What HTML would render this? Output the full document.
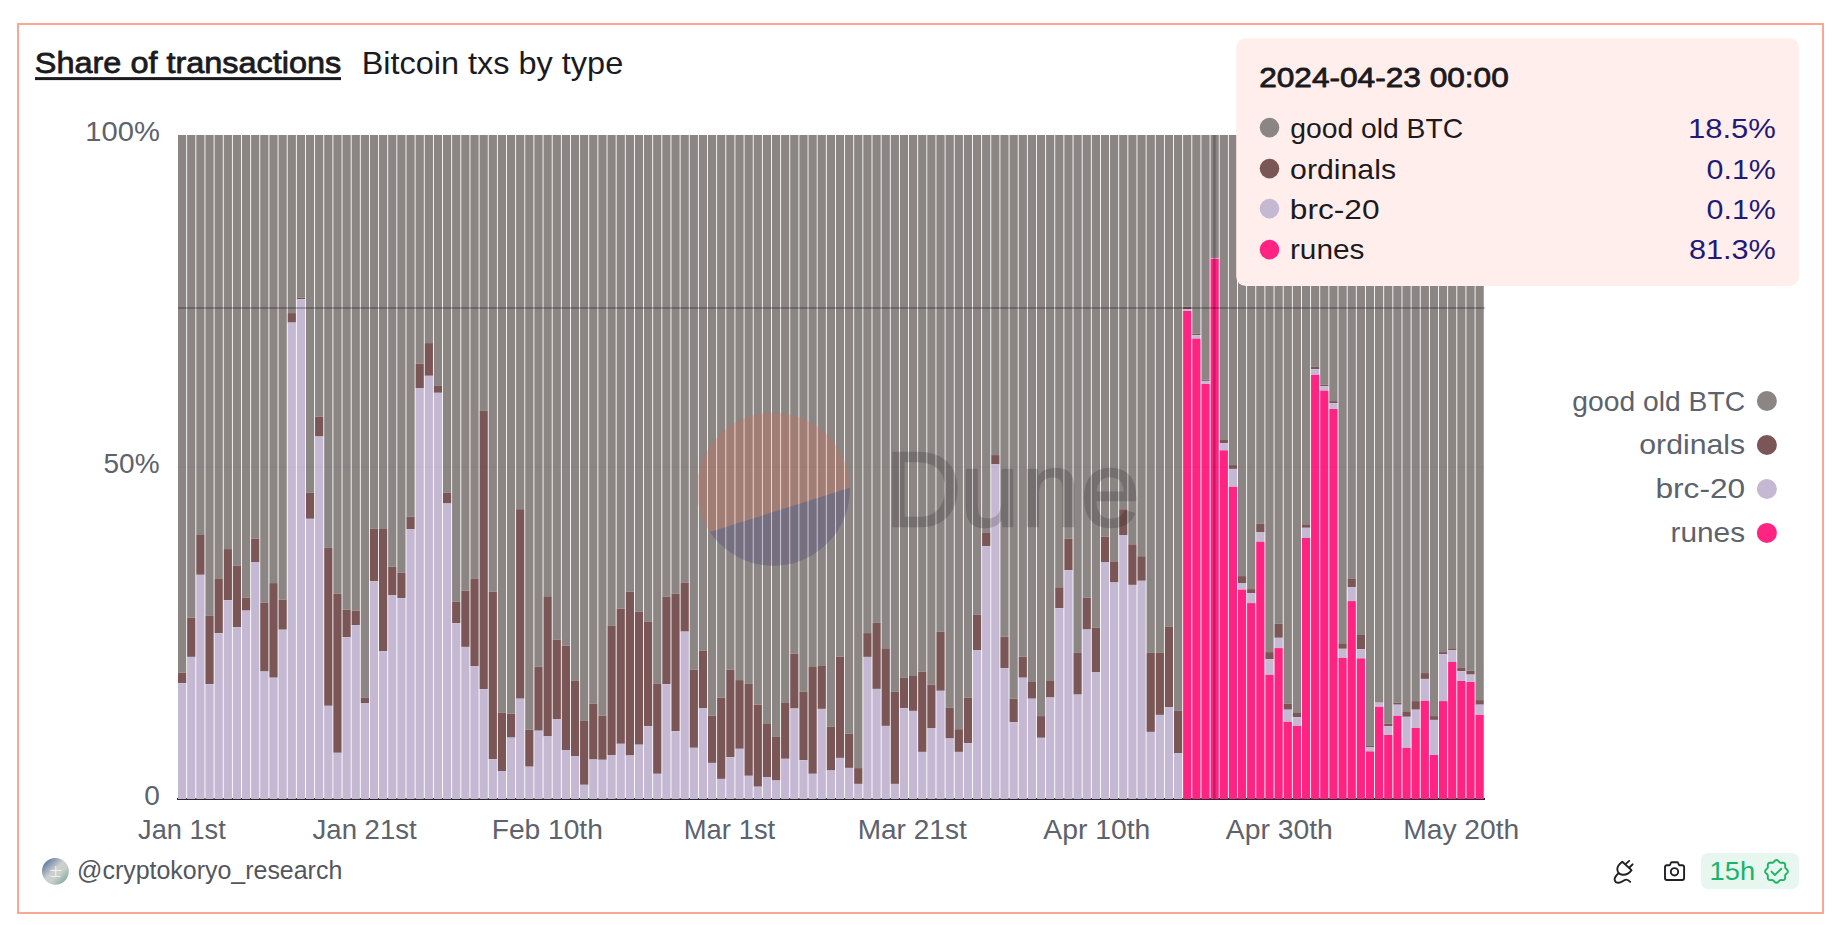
<!DOCTYPE html>
<html lang="en"><head><meta charset="utf-8"><title>Share of transactions - Bitcoin txs by type</title>
<style>html,body{margin:0;padding:0;background:#fff;}body{width:1840px;height:925px;overflow:hidden;font-family:"Liberation Sans",sans-serif;}svg{display:block;}text{font-family:"Liberation Sans",sans-serif;}</style></head><body>
<svg width="1840" height="925" viewBox="0 0 1840 925">
<rect x="0" y="0" width="1840" height="925" fill="#ffffff"/>
<rect x="18" y="24" width="1805" height="889" fill="#ffffff" stroke="#f9a894" stroke-width="2"/>
<text x="34.85" y="73.4" font-size="30.4" stroke="#1b1a1e" stroke-width="0.8" stroke-linejoin="round" fill="#1b1a1e" textLength="306.42" lengthAdjust="spacingAndGlyphs">Share of transactions</text>
<rect x="35" y="77.1" width="306" height="3" fill="#1b1a1e"/>
<text x="361.69" y="73.8" font-size="31.7" fill="#1b1a1e" textLength="261.49" lengthAdjust="spacingAndGlyphs">Bitcoin txs by type</text>
<text x="85.26" y="140.8" font-size="27.5" fill="#5d626c" textLength="74.61" lengthAdjust="spacingAndGlyphs">100%</text>
<text x="103.54" y="472.9" font-size="27.5" fill="#5d626c" textLength="56.07" lengthAdjust="spacingAndGlyphs">50%</text>
<text x="144.21" y="804.9" font-size="27.5" fill="#5d626c" textLength="15.59" lengthAdjust="spacingAndGlyphs">0</text>
<rect x="177" y="798" width="1308" height="2" fill="#2d2a33"/>
<g fill="#8b8584"><rect x="178" y="135" width="8.24" height="537.7"/><rect x="187.14" y="135" width="8.24" height="482.6"/><rect x="196.28" y="135" width="8.24" height="400"/><rect x="205.41" y="135" width="8.24" height="480.9"/><rect x="214.55" y="135" width="8.24" height="443.4"/><rect x="223.69" y="135" width="8.24" height="414.1"/><rect x="232.82" y="135" width="8.24" height="430.8"/><rect x="241.96" y="135" width="8.24" height="462.5"/><rect x="251.1" y="135" width="8.24" height="403.6"/><rect x="260.24" y="135" width="8.24" height="467.8"/><rect x="269.38" y="135" width="8.24" height="448.1"/><rect x="278.51" y="135" width="8.24" height="464.7"/><rect x="287.65" y="135" width="8.24" height="178.1"/><rect x="296.79" y="135" width="8.24" height="162.6"/><rect x="305.92" y="135" width="8.24" height="357.8"/><rect x="315.06" y="135" width="8.24" height="281.6"/><rect x="324.2" y="135" width="8.24" height="412.9"/><rect x="333.34" y="135" width="8.24" height="458.7"/><rect x="342.48" y="135" width="8.24" height="474.7"/><rect x="351.61" y="135" width="8.24" height="475.6"/><rect x="360.75" y="135" width="8.24" height="562.5"/><rect x="369.89" y="135" width="8.24" height="393.8"/><rect x="379.02" y="135" width="8.24" height="394"/><rect x="388.16" y="135" width="8.24" height="431.7"/><rect x="397.3" y="135" width="8.24" height="437.7"/><rect x="406.44" y="135" width="8.24" height="381.6"/><rect x="415.57" y="135" width="8.24" height="228.7"/><rect x="424.71" y="135" width="8.24" height="208.1"/><rect x="433.85" y="135" width="8.24" height="250.9"/><rect x="442.99" y="135" width="8.24" height="357.8"/><rect x="452.12" y="135" width="8.24" height="466.6"/><rect x="461.26" y="135" width="8.24" height="455.6"/><rect x="470.4" y="135" width="8.24" height="443.4"/><rect x="479.54" y="135" width="8.24" height="275.9"/><rect x="488.67" y="135" width="8.24" height="456.6"/><rect x="497.81" y="135" width="8.24" height="577.8"/><rect x="506.95" y="135" width="8.24" height="578.7"/><rect x="516.09" y="135" width="8.24" height="374.2"/><rect x="525.22" y="135" width="8.24" height="594.7"/><rect x="534.36" y="135" width="8.24" height="531.7"/><rect x="543.5" y="135" width="8.24" height="461.3"/><rect x="552.64" y="135" width="8.24" height="504.5"/><rect x="561.77" y="135" width="8.24" height="510.7"/><rect x="570.91" y="135" width="8.24" height="545.8"/><rect x="580.05" y="135" width="8.24" height="585.9"/><rect x="589.19" y="135" width="8.24" height="568.5"/><rect x="598.33" y="135" width="8.24" height="580.6"/><rect x="607.46" y="135" width="8.24" height="490.9"/><rect x="616.6" y="135" width="8.24" height="473.7"/><rect x="625.74" y="135" width="8.24" height="456.6"/><rect x="634.88" y="135" width="8.24" height="476.6"/><rect x="644.01" y="135" width="8.24" height="486.9"/><rect x="653.15" y="135" width="8.24" height="548.9"/><rect x="662.29" y="135" width="8.24" height="461.6"/><rect x="671.42" y="135" width="8.24" height="458.7"/><rect x="680.56" y="135" width="8.24" height="447.5"/><rect x="689.7" y="135" width="8.24" height="534.8"/><rect x="698.84" y="135" width="8.24" height="515.7"/><rect x="707.97" y="135" width="8.24" height="580.6"/><rect x="717.11" y="135" width="8.24" height="562.7"/><rect x="726.25" y="135" width="8.24" height="534.8"/><rect x="735.39" y="135" width="8.24" height="545.1"/><rect x="744.52" y="135" width="8.24" height="548.9"/><rect x="753.66" y="135" width="8.24" height="569.7"/><rect x="762.8" y="135" width="8.24" height="589"/><rect x="771.94" y="135" width="8.24" height="601.9"/><rect x="781.07" y="135" width="8.24" height="568"/><rect x="790.21" y="135" width="8.24" height="518.6"/><rect x="799.35" y="135" width="8.24" height="556.5"/><rect x="808.49" y="135" width="8.24" height="532"/><rect x="817.62" y="135" width="8.24" height="531"/><rect x="826.76" y="135" width="8.24" height="591.8"/><rect x="835.9" y="135" width="8.24" height="521.7"/><rect x="845.04" y="135" width="8.24" height="598.8"/><rect x="854.17" y="135" width="8.24" height="633.1"/><rect x="863.31" y="135" width="8.24" height="498.1"/><rect x="872.45" y="135" width="8.24" height="487.8"/><rect x="881.59" y="135" width="8.24" height="513.3"/><rect x="890.72" y="135" width="8.24" height="556.8"/><rect x="899.86" y="135" width="8.24" height="542.9"/><rect x="909" y="135" width="8.24" height="541"/><rect x="918.14" y="135" width="8.24" height="536.7"/><rect x="927.27" y="135" width="8.24" height="549.6"/><rect x="936.41" y="135" width="8.24" height="496.6"/><rect x="945.55" y="135" width="8.24" height="572.8"/><rect x="954.69" y="135" width="8.24" height="594.2"/><rect x="963.82" y="135" width="8.24" height="562.7"/><rect x="972.96" y="135" width="8.24" height="479.5"/><rect x="982.1" y="135" width="8.24" height="397.4"/><rect x="991.24" y="135" width="8.24" height="320.1"/><rect x="1000.37" y="135" width="8.24" height="501.6"/><rect x="1009.51" y="135" width="8.24" height="563.7"/><rect x="1018.65" y="135" width="8.24" height="521.7"/><rect x="1027.79" y="135" width="8.24" height="547"/><rect x="1036.92" y="135" width="8.24" height="581.1"/><rect x="1046.06" y="135" width="8.24" height="546"/><rect x="1055.2" y="135" width="8.24" height="452.3"/><rect x="1064.34" y="135" width="8.24" height="403.6"/><rect x="1073.47" y="135" width="8.24" height="517.9"/><rect x="1082.61" y="135" width="8.24" height="462.5"/><rect x="1091.75" y="135" width="8.24" height="492.8"/><rect x="1100.89" y="135" width="8.24" height="401.7"/><rect x="1110.03" y="135" width="8.24" height="427"/><rect x="1119.16" y="135" width="8.24" height="374.2"/><rect x="1128.3" y="135" width="8.24" height="409.3"/><rect x="1137.44" y="135" width="8.24" height="421.2"/><rect x="1146.57" y="135" width="8.24" height="517.9"/><rect x="1155.71" y="135" width="8.24" height="517.9"/><rect x="1164.85" y="135" width="8.24" height="491.9"/><rect x="1173.99" y="135" width="8.24" height="575.9"/><rect x="1183.12" y="135" width="8.24" height="171.6"/><rect x="1192.26" y="135" width="8.24" height="198.6"/><rect x="1201.4" y="135" width="8.24" height="244.7"/><rect x="1210.54" y="135" width="8.24" height="122.4"/><rect x="1219.67" y="135" width="8.24" height="305"/><rect x="1228.81" y="135" width="8.24" height="330.1"/><rect x="1237.95" y="135" width="8.24" height="441.1"/><rect x="1247.09" y="135" width="8.24" height="454.1"/><rect x="1256.22" y="135" width="8.24" height="388.8"/><rect x="1265.36" y="135" width="8.24" height="517.1"/><rect x="1274.5" y="135" width="8.24" height="488.8"/><rect x="1283.64" y="135" width="8.24" height="568.5"/><rect x="1292.77" y="135" width="8.24" height="578"/><rect x="1301.91" y="135" width="8.24" height="389.3"/><rect x="1311.05" y="135" width="8.24" height="231.8"/><rect x="1320.19" y="135" width="8.24" height="249.7"/><rect x="1329.32" y="135" width="8.24" height="266.1"/><rect x="1338.46" y="135" width="8.24" height="508.3"/><rect x="1347.6" y="135" width="8.24" height="443.4"/><rect x="1356.74" y="135" width="8.24" height="500"/><rect x="1365.88" y="135" width="8.24" height="610.9"/><rect x="1375.01" y="135" width="8.24" height="566.3"/><rect x="1384.15" y="135" width="8.24" height="588.7"/><rect x="1393.29" y="135" width="8.24" height="567.7"/><rect x="1402.42" y="135" width="8.24" height="576.3"/><rect x="1411.56" y="135" width="8.24" height="566.1"/><rect x="1420.7" y="135" width="8.24" height="538.1"/><rect x="1429.84" y="135" width="8.24" height="581.1"/><rect x="1438.97" y="135" width="8.24" height="517.1"/><rect x="1448.11" y="135" width="8.24" height="513.3"/><rect x="1457.25" y="135" width="8.24" height="532.9"/><rect x="1466.39" y="135" width="8.24" height="535.8"/><rect x="1475.52" y="135" width="8.24" height="565.1"/></g>
<g fill="#7a5756"><rect x="178" y="672.7" width="8.24" height="10.5"/><rect x="187.14" y="617.6" width="8.24" height="39.3"/><rect x="196.28" y="535" width="8.24" height="39.8"/><rect x="205.41" y="615.9" width="8.24" height="68.2"/><rect x="214.55" y="578.4" width="8.24" height="54.7"/><rect x="223.69" y="549.1" width="8.24" height="51"/><rect x="232.82" y="565.8" width="8.24" height="61.3"/><rect x="241.96" y="597.5" width="8.24" height="13.1"/><rect x="251.1" y="538.6" width="8.24" height="23.8"/><rect x="260.24" y="602.8" width="8.24" height="68.7"/><rect x="269.38" y="583.1" width="8.24" height="94.6"/><rect x="278.51" y="599.7" width="8.24" height="30"/><rect x="287.65" y="313.1" width="8.24" height="9.5"/><rect x="296.79" y="297.6" width="8.24" height="1.7"/><rect x="305.92" y="492.8" width="8.24" height="26"/><rect x="315.06" y="416.6" width="8.24" height="19.9"/><rect x="324.2" y="547.9" width="8.24" height="157.9"/><rect x="333.34" y="593.7" width="8.24" height="159.1"/><rect x="342.48" y="609.7" width="8.24" height="27.4"/><rect x="351.61" y="610.6" width="8.24" height="14.5"/><rect x="360.75" y="697.5" width="8.24" height="5.5"/><rect x="369.89" y="528.8" width="8.24" height="52.3"/><rect x="379.02" y="529" width="8.24" height="122.1"/><rect x="388.16" y="566.7" width="8.24" height="28.7"/><rect x="397.3" y="572.7" width="8.24" height="25.4"/><rect x="406.44" y="516.6" width="8.24" height="12.7"/><rect x="415.57" y="363.7" width="8.24" height="24.3"/><rect x="424.71" y="343.1" width="8.24" height="32.7"/><rect x="433.85" y="385.9" width="8.24" height="6.9"/><rect x="442.99" y="492.8" width="8.24" height="10.7"/><rect x="452.12" y="601.6" width="8.24" height="21.5"/><rect x="461.26" y="590.6" width="8.24" height="56.3"/><rect x="470.4" y="578.4" width="8.24" height="87.6"/><rect x="479.54" y="410.9" width="8.24" height="278.2"/><rect x="488.67" y="591.6" width="8.24" height="167.5"/><rect x="497.81" y="712.8" width="8.24" height="58.2"/><rect x="506.95" y="713.7" width="8.24" height="23.9"/><rect x="516.09" y="509.2" width="8.24" height="189.5"/><rect x="525.22" y="729.7" width="8.24" height="37"/><rect x="534.36" y="666.7" width="8.24" height="64"/><rect x="543.5" y="596.3" width="8.24" height="140.1"/><rect x="552.64" y="639.5" width="8.24" height="79.5"/><rect x="561.77" y="645.7" width="8.24" height="104.3"/><rect x="570.91" y="680.8" width="8.24" height="75.2"/><rect x="580.05" y="720.9" width="8.24" height="63.9"/><rect x="589.19" y="703.5" width="8.24" height="56"/><rect x="598.33" y="715.6" width="8.24" height="44.2"/><rect x="607.46" y="625.9" width="8.24" height="129.1"/><rect x="616.6" y="608.7" width="8.24" height="135.1"/><rect x="625.74" y="591.6" width="8.24" height="163.9"/><rect x="634.88" y="611.6" width="8.24" height="133.1"/><rect x="644.01" y="621.9" width="8.24" height="104.2"/><rect x="653.15" y="683.9" width="8.24" height="89.9"/><rect x="662.29" y="596.6" width="8.24" height="87.5"/><rect x="671.42" y="593.7" width="8.24" height="137.4"/><rect x="680.56" y="582.5" width="8.24" height="49.1"/><rect x="689.7" y="669.8" width="8.24" height="78"/><rect x="698.84" y="650.7" width="8.24" height="57.3"/><rect x="707.97" y="715.6" width="8.24" height="47.3"/><rect x="717.11" y="697.7" width="8.24" height="81.2"/><rect x="726.25" y="669.8" width="8.24" height="87.3"/><rect x="735.39" y="680.1" width="8.24" height="68.7"/><rect x="744.52" y="683.9" width="8.24" height="91.9"/><rect x="753.66" y="704.7" width="8.24" height="82"/><rect x="762.8" y="724" width="8.24" height="53"/><rect x="771.94" y="736.9" width="8.24" height="43.6"/><rect x="781.07" y="703" width="8.24" height="55.8"/><rect x="790.21" y="653.6" width="8.24" height="54.9"/><rect x="799.35" y="691.5" width="8.24" height="68.7"/><rect x="808.49" y="667" width="8.24" height="106.8"/><rect x="817.62" y="666" width="8.24" height="42.9"/><rect x="826.76" y="726.8" width="8.24" height="43.7"/><rect x="835.9" y="656.7" width="8.24" height="101.2"/><rect x="845.04" y="733.8" width="8.24" height="34.1"/><rect x="854.17" y="768.1" width="8.24" height="15.8"/><rect x="863.31" y="633.1" width="8.24" height="23.8"/><rect x="872.45" y="622.8" width="8.24" height="66.1"/><rect x="881.59" y="648.3" width="8.24" height="77.6"/><rect x="890.72" y="691.8" width="8.24" height="92.1"/><rect x="899.86" y="677.9" width="8.24" height="30.3"/><rect x="909" y="676" width="8.24" height="34.9"/><rect x="918.14" y="671.7" width="8.24" height="80.2"/><rect x="927.27" y="684.6" width="8.24" height="43.4"/><rect x="936.41" y="631.6" width="8.24" height="59.2"/><rect x="945.55" y="707.8" width="8.24" height="30.7"/><rect x="954.69" y="729.2" width="8.24" height="22.7"/><rect x="963.82" y="697.7" width="8.24" height="45.4"/><rect x="972.96" y="614.5" width="8.24" height="35.5"/><rect x="982.1" y="532.4" width="8.24" height="13.8"/><rect x="991.24" y="455.1" width="8.24" height="9.3"/><rect x="1000.37" y="636.6" width="8.24" height="31.5"/><rect x="1009.51" y="698.7" width="8.24" height="23.4"/><rect x="1018.65" y="656.7" width="8.24" height="21"/><rect x="1027.79" y="682" width="8.24" height="16.7"/><rect x="1036.92" y="716.1" width="8.24" height="21.7"/><rect x="1046.06" y="681" width="8.24" height="16.5"/><rect x="1055.2" y="587.3" width="8.24" height="21"/><rect x="1064.34" y="538.6" width="8.24" height="31.5"/><rect x="1073.47" y="652.9" width="8.24" height="41.7"/><rect x="1082.61" y="597.5" width="8.24" height="32"/><rect x="1091.75" y="627.8" width="8.24" height="44.2"/><rect x="1100.89" y="536.7" width="8.24" height="25.3"/><rect x="1110.03" y="562" width="8.24" height="20.5"/><rect x="1119.16" y="509.2" width="8.24" height="25.8"/><rect x="1128.3" y="544.3" width="8.24" height="40.6"/><rect x="1137.44" y="556.2" width="8.24" height="24.6"/><rect x="1146.57" y="652.9" width="8.24" height="79"/><rect x="1155.71" y="652.9" width="8.24" height="62"/><rect x="1164.85" y="626.9" width="8.24" height="80.4"/><rect x="1173.99" y="710.9" width="8.24" height="42.4"/><rect x="1183.12" y="306.6" width="8.24" height="2.8"/><rect x="1192.26" y="333.6" width="8.24" height="1.5"/><rect x="1201.4" y="379.7" width="8.24" height="1.2"/><rect x="1210.54" y="257.4" width="8.24" height="0.6"/><rect x="1219.67" y="440" width="8.24" height="3.1"/><rect x="1228.81" y="465.1" width="8.24" height="3.8"/><rect x="1237.95" y="576.1" width="8.24" height="6.9"/><rect x="1247.09" y="589.1" width="8.24" height="4"/><rect x="1256.22" y="523.8" width="8.24" height="8.6"/><rect x="1265.36" y="652.1" width="8.24" height="7.2"/><rect x="1274.5" y="623.8" width="8.24" height="14"/><rect x="1283.64" y="703.5" width="8.24" height="6.2"/><rect x="1292.77" y="713" width="8.24" height="4.1"/><rect x="1301.91" y="524.3" width="8.24" height="3.5"/><rect x="1311.05" y="366.8" width="8.24" height="2.3"/><rect x="1320.19" y="384.7" width="8.24" height="1.6"/><rect x="1329.32" y="401.1" width="8.24" height="2"/><rect x="1338.46" y="643.3" width="8.24" height="5.5"/><rect x="1347.6" y="578.4" width="8.24" height="8.9"/><rect x="1356.74" y="635" width="8.24" height="14.3"/><rect x="1365.88" y="745.9" width="8.24" height="1.2"/><rect x="1375.01" y="701.3" width="8.24" height="1.2"/><rect x="1384.15" y="723.7" width="8.24" height="2.4"/><rect x="1393.29" y="702.7" width="8.24" height="2"/><rect x="1402.42" y="711.3" width="8.24" height="5.5"/><rect x="1411.56" y="701.1" width="8.24" height="8.6"/><rect x="1420.7" y="673.1" width="8.24" height="5.8"/><rect x="1429.84" y="716.1" width="8.24" height="3.8"/><rect x="1438.97" y="652.1" width="8.24" height="2"/><rect x="1448.11" y="648.3" width="8.24" height="2"/><rect x="1457.25" y="667.9" width="8.24" height="3.3"/><rect x="1466.39" y="670.8" width="8.24" height="3.8"/><rect x="1475.52" y="700.1" width="8.24" height="4.6"/></g>
<g fill="#c5b8d2"><rect x="178" y="683.2" width="8.24" height="115.8"/><rect x="187.14" y="656.9" width="8.24" height="142.1"/><rect x="196.28" y="574.8" width="8.24" height="224.2"/><rect x="205.41" y="684.1" width="8.24" height="114.9"/><rect x="214.55" y="633.1" width="8.24" height="165.9"/><rect x="223.69" y="600.1" width="8.24" height="198.9"/><rect x="232.82" y="627.1" width="8.24" height="171.9"/><rect x="241.96" y="610.6" width="8.24" height="188.4"/><rect x="251.1" y="562.4" width="8.24" height="236.6"/><rect x="260.24" y="671.5" width="8.24" height="127.5"/><rect x="269.38" y="677.7" width="8.24" height="121.3"/><rect x="278.51" y="629.7" width="8.24" height="169.3"/><rect x="287.65" y="322.6" width="8.24" height="476.4"/><rect x="296.79" y="299.3" width="8.24" height="499.7"/><rect x="305.92" y="518.8" width="8.24" height="280.2"/><rect x="315.06" y="436.5" width="8.24" height="362.5"/><rect x="324.2" y="705.8" width="8.24" height="93.2"/><rect x="333.34" y="752.8" width="8.24" height="46.2"/><rect x="342.48" y="637.1" width="8.24" height="161.9"/><rect x="351.61" y="625.1" width="8.24" height="173.9"/><rect x="360.75" y="703" width="8.24" height="96"/><rect x="369.89" y="581.1" width="8.24" height="217.9"/><rect x="379.02" y="651.1" width="8.24" height="147.9"/><rect x="388.16" y="595.4" width="8.24" height="203.6"/><rect x="397.3" y="598.1" width="8.24" height="200.9"/><rect x="406.44" y="529.3" width="8.24" height="269.7"/><rect x="415.57" y="388" width="8.24" height="411"/><rect x="424.71" y="375.8" width="8.24" height="423.2"/><rect x="433.85" y="392.8" width="8.24" height="406.2"/><rect x="442.99" y="503.5" width="8.24" height="295.5"/><rect x="452.12" y="623.1" width="8.24" height="175.9"/><rect x="461.26" y="646.9" width="8.24" height="152.1"/><rect x="470.4" y="666" width="8.24" height="133"/><rect x="479.54" y="689.1" width="8.24" height="109.9"/><rect x="488.67" y="759.1" width="8.24" height="39.9"/><rect x="497.81" y="771" width="8.24" height="28"/><rect x="506.95" y="737.6" width="8.24" height="61.4"/><rect x="516.09" y="698.7" width="8.24" height="100.3"/><rect x="525.22" y="766.7" width="8.24" height="32.3"/><rect x="534.36" y="730.7" width="8.24" height="68.3"/><rect x="543.5" y="736.4" width="8.24" height="62.6"/><rect x="552.64" y="719" width="8.24" height="80"/><rect x="561.77" y="750" width="8.24" height="49"/><rect x="570.91" y="756" width="8.24" height="43"/><rect x="580.05" y="784.8" width="8.24" height="14.2"/><rect x="589.19" y="759.5" width="8.24" height="39.5"/><rect x="598.33" y="759.8" width="8.24" height="39.2"/><rect x="607.46" y="755" width="8.24" height="44"/><rect x="616.6" y="743.8" width="8.24" height="55.2"/><rect x="625.74" y="755.5" width="8.24" height="43.5"/><rect x="634.88" y="744.7" width="8.24" height="54.3"/><rect x="644.01" y="726.1" width="8.24" height="72.9"/><rect x="653.15" y="773.8" width="8.24" height="25.2"/><rect x="662.29" y="684.1" width="8.24" height="114.9"/><rect x="671.42" y="731.1" width="8.24" height="67.9"/><rect x="680.56" y="631.6" width="8.24" height="167.4"/><rect x="689.7" y="747.8" width="8.24" height="51.2"/><rect x="698.84" y="708" width="8.24" height="91"/><rect x="707.97" y="762.9" width="8.24" height="36.1"/><rect x="717.11" y="778.9" width="8.24" height="20.1"/><rect x="726.25" y="757.1" width="8.24" height="41.9"/><rect x="735.39" y="748.8" width="8.24" height="50.2"/><rect x="744.52" y="775.8" width="8.24" height="23.2"/><rect x="753.66" y="786.7" width="8.24" height="12.3"/><rect x="762.8" y="777" width="8.24" height="22"/><rect x="771.94" y="780.5" width="8.24" height="18.5"/><rect x="781.07" y="758.8" width="8.24" height="40.2"/><rect x="790.21" y="708.5" width="8.24" height="90.5"/><rect x="799.35" y="760.2" width="8.24" height="38.8"/><rect x="808.49" y="773.8" width="8.24" height="25.2"/><rect x="817.62" y="708.9" width="8.24" height="90.1"/><rect x="826.76" y="770.5" width="8.24" height="28.5"/><rect x="835.9" y="757.9" width="8.24" height="41.1"/><rect x="845.04" y="767.9" width="8.24" height="31.1"/><rect x="854.17" y="783.9" width="8.24" height="15.1"/><rect x="863.31" y="656.9" width="8.24" height="142.1"/><rect x="872.45" y="688.9" width="8.24" height="110.1"/><rect x="881.59" y="725.9" width="8.24" height="73.1"/><rect x="890.72" y="783.9" width="8.24" height="15.1"/><rect x="899.86" y="708.2" width="8.24" height="90.8"/><rect x="909" y="710.9" width="8.24" height="88.1"/><rect x="918.14" y="751.9" width="8.24" height="47.1"/><rect x="927.27" y="728" width="8.24" height="71"/><rect x="936.41" y="690.8" width="8.24" height="108.2"/><rect x="945.55" y="738.5" width="8.24" height="60.5"/><rect x="954.69" y="751.9" width="8.24" height="47.1"/><rect x="963.82" y="743.1" width="8.24" height="55.9"/><rect x="972.96" y="650" width="8.24" height="149"/><rect x="982.1" y="546.2" width="8.24" height="252.8"/><rect x="991.24" y="464.4" width="8.24" height="334.6"/><rect x="1000.37" y="668.1" width="8.24" height="130.9"/><rect x="1009.51" y="722.1" width="8.24" height="76.9"/><rect x="1018.65" y="677.7" width="8.24" height="121.3"/><rect x="1027.79" y="698.7" width="8.24" height="100.3"/><rect x="1036.92" y="737.8" width="8.24" height="61.2"/><rect x="1046.06" y="697.5" width="8.24" height="101.5"/><rect x="1055.2" y="608.3" width="8.24" height="190.7"/><rect x="1064.34" y="570.1" width="8.24" height="228.9"/><rect x="1073.47" y="694.6" width="8.24" height="104.4"/><rect x="1082.61" y="629.5" width="8.24" height="169.5"/><rect x="1091.75" y="672" width="8.24" height="127"/><rect x="1100.89" y="562" width="8.24" height="237"/><rect x="1110.03" y="582.5" width="8.24" height="216.5"/><rect x="1119.16" y="535" width="8.24" height="264"/><rect x="1128.3" y="584.9" width="8.24" height="214.1"/><rect x="1137.44" y="580.8" width="8.24" height="218.2"/><rect x="1146.57" y="731.9" width="8.24" height="67.1"/><rect x="1155.71" y="714.9" width="8.24" height="84.1"/><rect x="1164.85" y="707.3" width="8.24" height="91.7"/><rect x="1173.99" y="753.3" width="8.24" height="45.7"/><rect x="1183.12" y="309.4" width="8.24" height="1.6"/><rect x="1192.26" y="335.1" width="8.24" height="3.5"/><rect x="1201.4" y="380.9" width="8.24" height="3.1"/><rect x="1210.54" y="258" width="8.24" height="0.7"/><rect x="1219.67" y="443.1" width="8.24" height="7.2"/><rect x="1228.81" y="468.9" width="8.24" height="17.9"/><rect x="1237.95" y="583" width="8.24" height="6.6"/><rect x="1247.09" y="593.1" width="8.24" height="10"/><rect x="1256.22" y="532.4" width="8.24" height="9.3"/><rect x="1265.36" y="659.3" width="8.24" height="15.5"/><rect x="1274.5" y="637.8" width="8.24" height="10.3"/><rect x="1283.64" y="709.7" width="8.24" height="12.1"/><rect x="1292.77" y="717.1" width="8.24" height="8.8"/><rect x="1301.91" y="527.8" width="8.24" height="10.1"/><rect x="1311.05" y="369.1" width="8.24" height="5.8"/><rect x="1320.19" y="386.3" width="8.24" height="4.3"/><rect x="1329.32" y="403.1" width="8.24" height="5.9"/><rect x="1338.46" y="648.8" width="8.24" height="9.1"/><rect x="1347.6" y="587.3" width="8.24" height="13.8"/><rect x="1356.74" y="649.3" width="8.24" height="9.1"/><rect x="1365.88" y="747.1" width="8.24" height="4.3"/><rect x="1375.01" y="702.5" width="8.24" height="4.3"/><rect x="1384.15" y="726.1" width="8.24" height="8.9"/><rect x="1393.29" y="704.7" width="8.24" height="11.2"/><rect x="1402.42" y="716.8" width="8.24" height="31"/><rect x="1411.56" y="709.7" width="8.24" height="18.3"/><rect x="1420.7" y="678.9" width="8.24" height="21.9"/><rect x="1429.84" y="719.9" width="8.24" height="35.1"/><rect x="1438.97" y="654.1" width="8.24" height="47"/><rect x="1448.11" y="650.3" width="8.24" height="11.6"/><rect x="1457.25" y="671.2" width="8.24" height="9.8"/><rect x="1466.39" y="674.6" width="8.24" height="7.4"/><rect x="1475.52" y="704.7" width="8.24" height="10.2"/></g>
<g fill="#ff2482"><rect x="1183.12" y="311" width="8.24" height="488"/><rect x="1192.26" y="338.6" width="8.24" height="460.4"/><rect x="1201.4" y="384" width="8.24" height="415"/><rect x="1210.54" y="258.7" width="8.24" height="540.3"/><rect x="1219.67" y="450.3" width="8.24" height="348.7"/><rect x="1228.81" y="486.8" width="8.24" height="312.2"/><rect x="1237.95" y="589.6" width="8.24" height="209.4"/><rect x="1247.09" y="603.1" width="8.24" height="195.9"/><rect x="1256.22" y="541.7" width="8.24" height="257.3"/><rect x="1265.36" y="674.8" width="8.24" height="124.2"/><rect x="1274.5" y="648.1" width="8.24" height="150.9"/><rect x="1283.64" y="721.8" width="8.24" height="77.2"/><rect x="1292.77" y="725.9" width="8.24" height="73.1"/><rect x="1301.91" y="537.9" width="8.24" height="261.1"/><rect x="1311.05" y="374.9" width="8.24" height="424.1"/><rect x="1320.19" y="390.6" width="8.24" height="408.4"/><rect x="1329.32" y="409" width="8.24" height="390"/><rect x="1338.46" y="657.9" width="8.24" height="141.1"/><rect x="1347.6" y="601.1" width="8.24" height="197.9"/><rect x="1356.74" y="658.4" width="8.24" height="140.6"/><rect x="1365.88" y="751.4" width="8.24" height="47.6"/><rect x="1375.01" y="706.8" width="8.24" height="92.2"/><rect x="1384.15" y="735" width="8.24" height="64"/><rect x="1393.29" y="715.9" width="8.24" height="83.1"/><rect x="1402.42" y="747.8" width="8.24" height="51.2"/><rect x="1411.56" y="728" width="8.24" height="71"/><rect x="1420.7" y="700.8" width="8.24" height="98.2"/><rect x="1429.84" y="755" width="8.24" height="44"/><rect x="1438.97" y="701.1" width="8.24" height="97.9"/><rect x="1448.11" y="661.9" width="8.24" height="137.1"/><rect x="1457.25" y="681" width="8.24" height="118"/><rect x="1466.39" y="682" width="8.24" height="117"/><rect x="1475.52" y="714.9" width="8.24" height="84.1"/></g>
<rect x="176" y="466.5" width="1309" height="1" fill="#000" fill-opacity="0.035"/>
<clipPath id="wc"><circle cx="773.3" cy="489.2" r="76.5"/></clipPath>
<g clip-path="url(#wc)" fill-opacity="0.2"><polygon points="690,538.35 860,484.65 860,400 690,400" fill="#f4603e"/><polygon points="690,538.35 860,484.65 860,580 690,580" fill="#1e1870"/></g>
<g opacity="0.16"><text x="884.7 960.3 1021 1080.7" y="526.3" font-size="106" fill="#000" stroke="#000" stroke-width="2.6" stroke-linejoin="round">Dune</text></g>
<rect x="178" y="307" width="1306.8" height="2" fill="#000" fill-opacity="0.23"/>
<rect x="1213.2" y="135" width="2.4" height="664" fill="#000" fill-opacity="0.23"/>
<text x="138.06" y="839.1" font-size="27.5" fill="#5d626c" textLength="87.66" lengthAdjust="spacingAndGlyphs">Jan 1st</text>
<text x="312.54" y="839.1" font-size="27.5" fill="#5d626c" textLength="104.15" lengthAdjust="spacingAndGlyphs">Jan 21st</text>
<text x="491.71" y="839.1" font-size="27.5" fill="#5d626c" textLength="111.17" lengthAdjust="spacingAndGlyphs">Feb 10th</text>
<text x="683.77" y="839.1" font-size="27.5" fill="#5d626c" textLength="91.46" lengthAdjust="spacingAndGlyphs">Mar 1st</text>
<text x="857.68" y="839.1" font-size="27.5" fill="#5d626c" textLength="109.02" lengthAdjust="spacingAndGlyphs">Mar 21st</text>
<text x="1043.37" y="839.1" font-size="27.5" fill="#5d626c" textLength="107.01" lengthAdjust="spacingAndGlyphs">Apr 10th</text>
<text x="1225.87" y="839.1" font-size="27.5" fill="#5d626c" textLength="107.01" lengthAdjust="spacingAndGlyphs">Apr 30th</text>
<text x="1403.18" y="839.1" font-size="27.5" fill="#5d626c" textLength="116.14" lengthAdjust="spacingAndGlyphs">May 20th</text>
<text x="1572.31" y="410.6" font-size="27.2" fill="#5d626c" textLength="172.77" lengthAdjust="spacingAndGlyphs">good old BTC</text>
<circle cx="1766.9" cy="401" r="10" fill="#8b8584"/>
<text x="1639.34" y="454.4" font-size="27.2" fill="#5d626c" textLength="105.78" lengthAdjust="spacingAndGlyphs">ordinals</text>
<circle cx="1766.9" cy="445" r="10" fill="#7a5756"/>
<text x="1655.42" y="498.3" font-size="27.2" fill="#5d626c" textLength="89.81" lengthAdjust="spacingAndGlyphs">brc-20</text>
<circle cx="1766.9" cy="489" r="10" fill="#c5b8d2"/>
<text x="1670.5" y="542.2" font-size="27.2" fill="#5d626c" textLength="74.58" lengthAdjust="spacingAndGlyphs">runes</text>
<circle cx="1766.9" cy="532.9" r="10" fill="#ff2482"/>
<rect x="1236.2" y="38.3" width="562.9" height="247.8" rx="9.5" fill="#ffeeeb"/>
<text x="1259.21" y="86.6" font-size="27.5" stroke="#1b1a1e" stroke-width="0.8" stroke-linejoin="round" fill="#1b1a1e" textLength="249.57" lengthAdjust="spacingAndGlyphs">2024-04-23 00:00</text>
<circle cx="1269.5" cy="127.6" r="9.8" fill="#8b8584"/>
<text x="1290.21" y="138" font-size="27.9" fill="#1b1a1e" textLength="172.98" lengthAdjust="spacingAndGlyphs">good old BTC</text>
<text x="1687.94" y="137.8" font-size="27.9" fill="#1f1a78" textLength="87.96" lengthAdjust="spacingAndGlyphs">18.5%</text>
<circle cx="1269.5" cy="168.6" r="9.8" fill="#7a5756"/>
<text x="1290.14" y="178.5" font-size="27.9" fill="#1b1a1e" textLength="105.88" lengthAdjust="spacingAndGlyphs">ordinals</text>
<text x="1706.63" y="178.5" font-size="27.9" fill="#1f1a78" textLength="69.25" lengthAdjust="spacingAndGlyphs">0.1%</text>
<circle cx="1269.5" cy="208.6" r="9.8" fill="#c5b8d2"/>
<text x="1289.83" y="218.8" font-size="27.9" fill="#1b1a1e" textLength="89.71" lengthAdjust="spacingAndGlyphs">brc-20</text>
<text x="1706.63" y="218.8" font-size="27.9" fill="#1f1a78" textLength="69.25" lengthAdjust="spacingAndGlyphs">0.1%</text>
<circle cx="1269.5" cy="249.6" r="9.8" fill="#ff2482"/>
<text x="1289.9" y="259.2" font-size="27.9" fill="#1b1a1e" textLength="74.58" lengthAdjust="spacingAndGlyphs">runes</text>
<text x="1688.94" y="258.9" font-size="27.9" fill="#1f1a78" textLength="86.95" lengthAdjust="spacingAndGlyphs">81.3%</text>
<defs><linearGradient id="av" x1="0.1" y1="0.1" x2="0.9" y2="0.9"><stop offset="0" stop-color="#54749f"/><stop offset="0.45" stop-color="#cdd0ce"/><stop offset="0.65" stop-color="#c9cfca"/><stop offset="1" stop-color="#7fa9a3"/></linearGradient></defs>
<circle cx="55.4" cy="871.3" r="13.4" fill="url(#av)"/>
<text x="55.6" y="877.2" font-size="12.2" text-anchor="middle" fill="#ffffff" fill-opacity="0.72" style="font-family:'Liberation Sans','Noto Sans CJK JP',sans-serif">士</text>
<text x="77.11" y="879.3" font-size="25" fill="#53565d" textLength="265.15" lengthAdjust="spacingAndGlyphs">@cryptokoryo_research</text>
<rect x="1701" y="853" width="98" height="36" rx="7" fill="#e7f6ee"/>
<text x="1709.63" y="879.8" font-size="24.9" fill="#19b36b" textLength="45.43" lengthAdjust="spacingAndGlyphs">15h</text>
<g fill="none" stroke="#1f1f24" stroke-width="1.9" stroke-linecap="round" stroke-linejoin="round">
<path d="M1622.3 861.7 L1631.5 870.1 C1629.5 873 1626 875 1622.6 874.8 C1619.5 874.6 1617.3 872.2 1617.3 869.1 C1617.3 866.2 1619.6 863.7 1622.3 861.7 Z"/>
<path d="M1626.1 863.6 L1629.2 860.9 M1629.4 867.5 L1632.6 864.3"/>
<path d="M1618.6 873 C1616.5 875.2 1614.6 877 1614.6 879.3 C1614.6 881.5 1616.3 882.9 1618.6 882.8 C1621.5 882.7 1623.4 879.8 1626.2 879.6 C1627.9 879.5 1629.1 880.7 1630.2 881.9"/>
<path d="M1667 865.3 L1669.6 865.3 C1670.4 865.3 1670.5 862.3 1671.6 862.3 L1677.4 862.3 C1678.5 862.3 1678.6 865.3 1679.4 865.3 L1682.1 865.3 C1683.3 865.3 1684.1 866.1 1684.1 867.3 L1684.1 878 C1684.1 879.2 1683.3 880 1682.1 880 L1667 880 C1665.8 880 1665 879.2 1665 878 L1665 867.3 C1665 866.1 1665.8 865.3 1667 865.3 Z"/>
<circle cx="1674.5" cy="871.8" r="3.7"/>
</g>
<g fill="none" stroke="#1db565" stroke-width="1.9" stroke-linecap="round" stroke-linejoin="round">
<path d="M1776.50 860.00 L1777.09 860.10 L1777.66 860.38 L1778.18 860.79 L1778.65 861.28 L1779.08 861.76 L1779.49 862.19 L1779.91 862.51 L1780.37 862.70 L1780.90 862.77 L1781.49 862.76 L1782.14 862.72 L1782.81 862.71 L1783.48 862.78 L1784.07 862.99 L1784.56 863.34 L1784.91 863.83 L1785.12 864.42 L1785.19 865.09 L1785.18 865.76 L1785.14 866.41 L1785.13 867.00 L1785.20 867.53 L1785.39 867.99 L1785.71 868.41 L1786.14 868.82 L1786.62 869.25 L1787.11 869.72 L1787.52 870.24 L1787.80 870.81 L1787.90 871.40 L1787.80 871.99 L1787.52 872.56 L1787.11 873.08 L1786.62 873.55 L1786.14 873.98 L1785.71 874.39 L1785.39 874.81 L1785.20 875.27 L1785.13 875.80 L1785.14 876.39 L1785.18 877.04 L1785.19 877.71 L1785.12 878.38 L1784.91 878.97 L1784.56 879.46 L1784.07 879.81 L1783.48 880.02 L1782.81 880.09 L1782.14 880.08 L1781.49 880.04 L1780.90 880.03 L1780.37 880.10 L1779.91 880.29 L1779.49 880.61 L1779.08 881.04 L1778.65 881.52 L1778.18 882.01 L1777.66 882.42 L1777.09 882.70 L1776.50 882.80 L1775.91 882.70 L1775.34 882.42 L1774.82 882.01 L1774.35 881.52 L1773.92 881.04 L1773.51 880.61 L1773.09 880.29 L1772.63 880.10 L1772.10 880.03 L1771.51 880.04 L1770.86 880.08 L1770.19 880.09 L1769.52 880.02 L1768.93 879.81 L1768.44 879.46 L1768.09 878.97 L1767.88 878.38 L1767.81 877.71 L1767.82 877.04 L1767.86 876.39 L1767.87 875.80 L1767.80 875.27 L1767.61 874.81 L1767.29 874.39 L1766.86 873.98 L1766.38 873.55 L1765.89 873.08 L1765.48 872.56 L1765.20 871.99 L1765.10 871.40 L1765.20 870.81 L1765.48 870.24 L1765.89 869.72 L1766.38 869.25 L1766.86 868.82 L1767.29 868.41 L1767.61 867.99 L1767.80 867.53 L1767.87 867.00 L1767.86 866.41 L1767.82 865.76 L1767.81 865.09 L1767.88 864.42 L1768.09 863.83 L1768.44 863.34 L1768.93 862.99 L1769.52 862.78 L1770.19 862.71 L1770.86 862.72 L1771.51 862.76 L1772.10 862.77 L1772.63 862.70 L1773.09 862.51 L1773.51 862.19 L1773.92 861.76 L1774.35 861.28 L1774.82 860.79 L1775.34 860.38 L1775.91 860.10 Z"/>
<path d="M1771.5 871.6 L1774.8 875 L1781.3 868.8"/>
</g>
</svg></body></html>
